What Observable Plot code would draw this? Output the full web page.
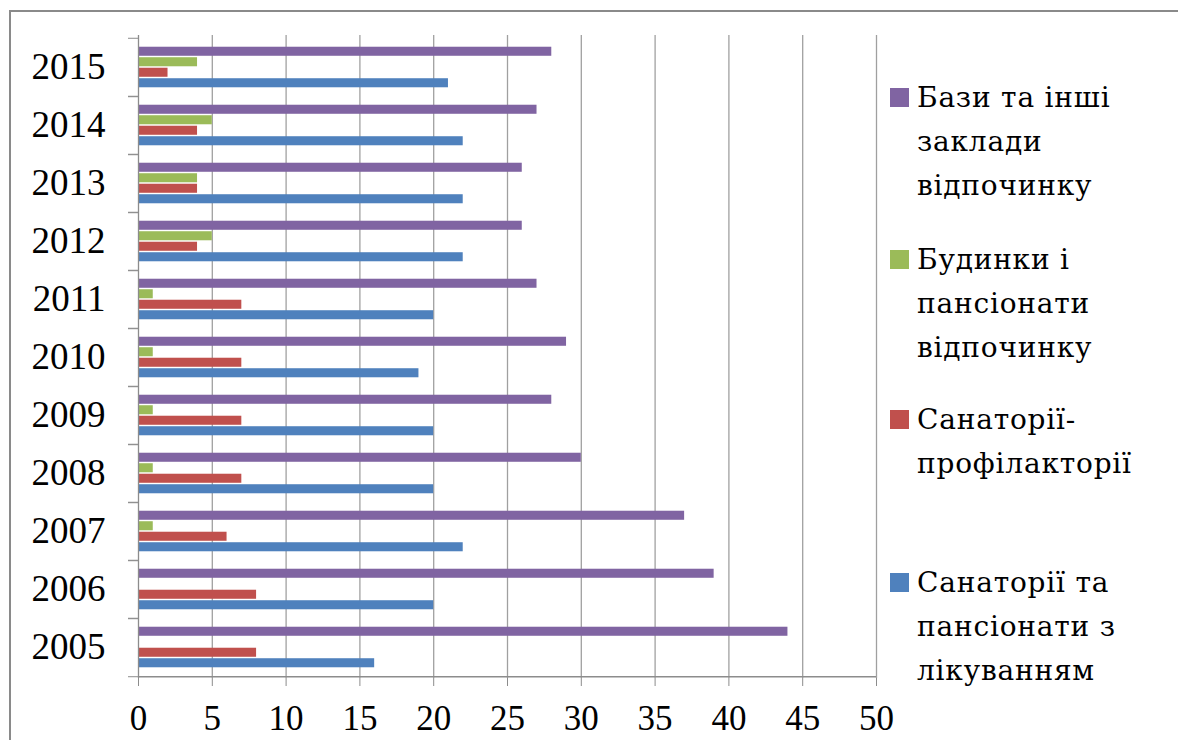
<!DOCTYPE html>
<html>
<head>
<meta charset="utf-8">
<script src="https://cdn.jsdelivr.net/npm/d3@7"></script>
<script src="https://cdn.jsdelivr.net/npm/@observablehq/plot@0.6"></script>
<style>
  html, body { margin: 0; padding: 0; background: #fff; overflow: hidden; }
  #wrap { position: relative; width: 1178px; height: 740px; font-family: "Liberation Serif", serif; }
  #border { position: absolute; left: 9px; top: 10px; width: 1400px; height: 900px; border-left: 2px solid #8a8a8a; border-top: 2px solid #8a8a8a; }
  #chart { position: absolute; left: 0; top: 0; }
  .entry { position: absolute; left: 890px; font-family: "DejaVu Serif", serif; font-size: 28px; letter-spacing: 0.8px; line-height: 44px; color: #000; }
  .entry .sw { position: absolute; left: 0; top: 12px; width: 19px; height: 19px; }
  .entry .tx { margin-left: 27px; white-space: nowrap; }
</style>
</head>
<body>
<div id="wrap">
  <div id="border"></div>
  <div id="chart"></div>
  <div id="legend"></div>
</div>
<script>
// ---- data ----
const years = ["2005","2006","2007","2008","2009","2010","2011","2012","2013","2014","2015"];
const seriesNames = [
  "Санаторії та пансіонати з лікуванням",
  "Санаторії-профілакторії",
  "Будинки і пансіонати відпочинку",
  "Бази та інші заклади відпочинку"
];
const sanatoria     = [16, 20, 22, 20, 20, 19, 20, 22, 22, 22, 21];
const profilaktoria = [ 8,  8,  6,  7,  7,  7,  7,  4,  4,  4,  2];
const budynky       = [ 0,  0,  1,  1,  1,  1,  1,  5,  4,  5,  4];
const bazy          = [44, 39, 37, 30, 28, 29, 27, 26, 26, 27, 28];
const xTicks = [0, 5, 10, 15, 20, 25, 30, 35, 40, 45, 50];
const colors = ["#4F81BD", "#C0504D", "#9BBB59", "#8064A2"];
const legendLines = [
  ["Бази та інші", "заклади", "відпочинку"],
  ["Будинки і", "пансіонати", "відпочинку"],
  ["Санаторії-", "профілакторії"],
  ["Санаторії та", "пансіонати з", "лікуванням"]
];
const legendColors = ["#8064A2", "#9BBB59", "#C0504D", "#4F81BD"];

// ---- build table ----
const valuesBySeries = [sanatoria, profilaktoria, budynky, bazy];
const rows = [];
seriesNames.forEach((s, si) => years.forEach((y, yi) => rows.push({year: y, series: s, value: valuesBySeries[si][yi]})));

// ---- layout ----
const W = 1178, H = 740, mt = 35, mb = 62, ml = 138, mr = 302;
const step = (H - mt - mb) / years.length;
const barH = 10.5;
const outer = (step - 4 * barH) / 2;
const topToBottom = [3, 2, 1, 0]; // bazy, budynky, profil, sanatoria
const gray = "#8c8c8c";

const barMarks = topToBottom.map((si, k) =>
  Plot.barX(rows.filter(d => d.series === seriesNames[si]), {
    y: "year", x: "value", fill: "series",
    insetTop: outer + k * barH + 0.5,
    insetBottom: step - outer - (k + 1) * barH + 0.5
  })
);

const plot = Plot.plot({
  width: W, height: H,
  marginTop: mt, marginBottom: mb, marginLeft: ml, marginRight: mr,
  style: {fontFamily: "'Liberation Serif', 'Times New Roman', serif", fontSize: "35px", color: "#000", background: "transparent"},
  x: {domain: [0, 50], ticks: xTicks},
  y: {domain: years.slice().reverse(), padding: 0},
  color: {domain: seriesNames, range: colors},
  marks: [
    Plot.gridX(xTicks.filter(t => t > 0), {stroke: "#a0a0a0", strokeOpacity: 1, strokeWidth: 1.3}),
    ...barMarks,
    Plot.ruleX([0], {stroke: gray, strokeWidth: 1.3}),
    Plot.ruleY(["2005"], {dy: step / 2, x1: 0, x2: 50, stroke: gray, strokeWidth: 1.3}),
    Plot.axisX(xTicks, {tickSize: 8, tickPadding: 19, stroke: gray, fill: "#000", fontSize: 35, label: null}),
    Plot.axisY({tickSize: 0, tickPadding: 33, fontSize: 37, fill: "#000", label: null}),
    Plot.axisY({tickSize: 10, tickFormat: () => "", dy: -step / 2, stroke: gray, label: null}),
    Plot.axisY({tickSize: 10, tickFormat: () => "", dy: step / 2, stroke: gray, label: null})
  ]
});
document.getElementById("chart").appendChild(plot);

// ---- legend ----
const legendTops = [76, 238, 398, 561];
const leg = document.getElementById("legend");
legendLines.forEach((lines, i) => {
  const e = document.createElement("div");
  e.className = "entry";
  e.style.top = legendTops[i] + "px";
  const sw = document.createElement("div");
  sw.className = "sw";
  sw.style.background = legendColors[i];
  e.appendChild(sw);
  lines.forEach(l => {
    const t = document.createElement("div");
    t.className = "tx";
    t.textContent = l;
    e.appendChild(t);
  });
  leg.appendChild(e);
});
</script>
</body>
</html>
